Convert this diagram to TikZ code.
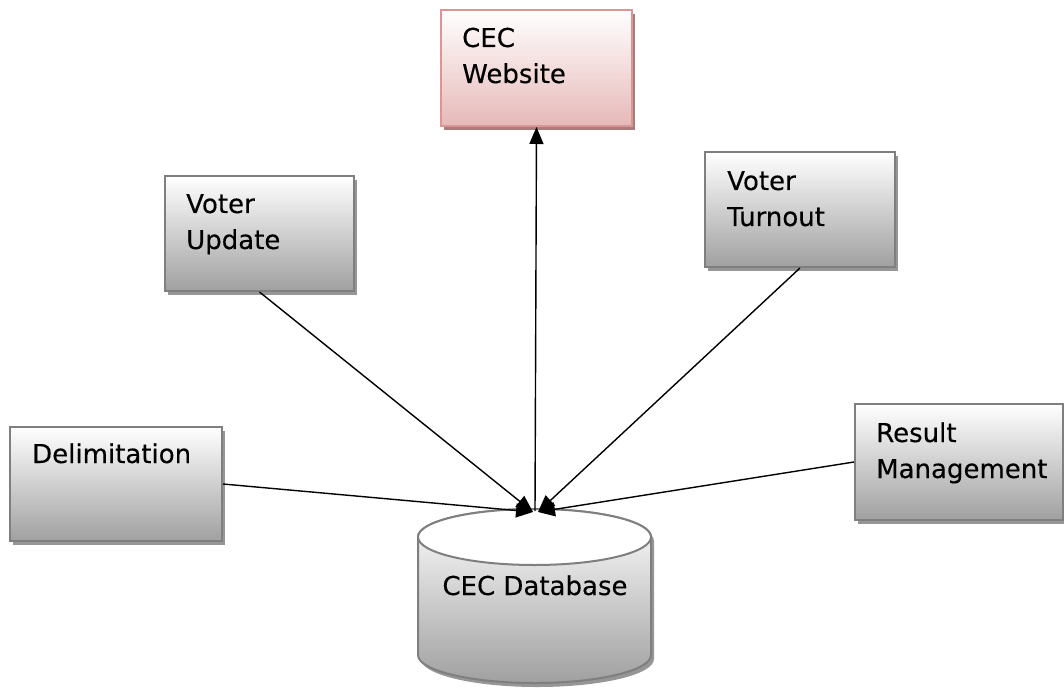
\documentclass[tikz,border=0pt]{standalone}
\usepackage{fontspec}
\setmainfont{DejaVu Sans}[FakeBold=0.3]
\usetikzlibrary{arrows.meta,shadows}

\definecolor{boxline}{RGB}{127,127,127}
\definecolor{boxbot}{RGB}{160,160,160}
\definecolor{boxshadow}{RGB}{150,150,150}
\definecolor{webline}{RGB}{217,150,148}
\definecolor{webbot}{RGB}{230,185,184}
\definecolor{webshadow}{RGB}{170,125,125}

\begin{document}
\begin{tikzpicture}[x=1pt,y=-1pt,
  panel/.style={rectangle, anchor=north west, inner sep=0pt, line width=2pt},
  greyshadow/.style={drop shadow={shadow xshift=3pt, shadow yshift=-4pt, fill=boxshadow, opacity=1}},
  pinkshadow/.style={drop shadow={shadow xshift=3pt, shadow yshift=-4pt, fill=webshadow, opacity=1}},
  greybox/.style={panel, draw=boxline, top color=white, bottom color=boxbot, greyshadow},
  webbox/.style={panel, draw=webline, top color=white, bottom color=webbot, pinkshadow},
  caption/.style={anchor=base west, inner sep=0pt, align=left, font=\fontsize{26}{36}\selectfont},
  conn/.style={line width=1.4pt, -{Triangle[length=17pt,width=14pt]}}
]
\useasboundingbox (0,0) rectangle (1064,692);

% database cylinder: shadow, shaded body, white lid
\fill[boxshadow] (421,541) -- (421,659) arc[start angle=180,end angle=0,x radius=116.5,y radius=28]
  -- (654,541) arc[start angle=0,end angle=-180,x radius=116.5,y radius=28] -- cycle;
\path[draw=boxline, line width=2pt, top color=white, bottom color=boxbot]
  (418,537) -- (418,655) arc[start angle=180,end angle=0,x radius=116.5,y radius=28]
  -- (651,537) arc[start angle=0,end angle=-180,x radius=116.5,y radius=28] -- cycle;
\draw[boxline, line width=2pt, fill=white] (534.5,537) ellipse [x radius=116.5, y radius=28];
\coordinate (db) at (534.5,537);
\node[anchor=base, inner sep=0pt, font=\fontsize{26}{36}\selectfont] (dbtext) at (535,595) {CEC Database};

% module boxes
\node[webbox, minimum width=191pt, minimum height=116pt] (web) at (440,9) {};
\node[greybox, minimum width=189pt, minimum height=115pt] (vu) at (164,175) {};
\node[greybox, minimum width=190pt, minimum height=115pt] (vt) at (704,151) {};
\node[greybox, minimum width=212pt, minimum height=114pt] (del) at (9,426) {};
\node[greybox, minimum width=208pt, minimum height=116pt] (res) at (854,403) {};

% captions (anchored at the baseline of their last line)
\node[caption] (webtext) at (462,83) {CEC\\Website};
\node[caption] (vutext) at (186,249) {Voter\\Update};
\node[caption] (vttext) at (727,226) {Voter\\Turnout};
\node[caption] (deltext) at (32,463) {Delimitation};
\node[caption] (restext) at (876,478) {Result\\Management};

% connectors
\coordinate (hubL) at (533,512);
\coordinate (hubR) at (538,512);
\coordinate (hub) at (535,511);
\draw[conn] (del.east) -- (hubL);
\draw[conn] (vu.south) -- (hubL);
\draw[conn] (res.west) -- (hubR);
\draw[conn] (vt.south) -- (hubR);
\draw[conn] (hub) -- (web.south);
\end{tikzpicture}
\end{document}
